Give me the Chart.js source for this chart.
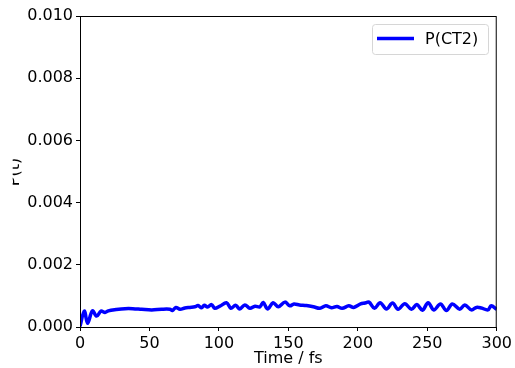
<!DOCTYPE html>
<html>
<head>
<meta charset="utf-8">
<script src="https://cdn.jsdelivr.net/npm/chart.js@4/dist/chart.umd.min.js"></script>
<style>
  html, body { margin: 0; padding: 0; background: #fff; }
  canvas { display: block; }
</style>
</head>
<body>
<canvas id="popChart" width="515" height="368"></canvas>
<script>
// data
const seriesLabel = 'P(CT2)';
const timeFs = [0, 3.1, 5.5, 8.9, 12, 15.1, 18, 20.4, 26, 32.4, 38, 44.4, 51.6, 58.8, 64.7,
  66.5, 69, 72, 75.5, 79, 82.7, 85, 87.5, 89.5, 91.8, 94.7, 97, 100.7, 105.5, 108.6,
  112, 115, 118.7, 122.3, 126, 129.5, 131.9, 135, 139, 142.7, 147.5, 151, 154, 158,
  163, 168, 172.7, 177, 181, 185, 188.7, 193.5, 197, 202, 205, 208, 212, 216, 220.6,
  225, 229, 233.8, 238.6, 242.5, 246.5, 250.6, 254.7, 259.5, 263.8, 268, 273.4, 277,
  281.8, 285.4, 289, 293.7, 296, 300];
const pCT2 = [0.00002, 0.00051, 0.00012, 0.00052, 0.00035, 0.00051, 0.00047, 0.00052, 0.00056, 0.00059, 0.00059, 0.00057, 0.00055, 0.00057, 0.00057,
  0.00053, 0.00063, 0.00057, 0.00061, 0.00063, 0.00065, 0.00069, 0.00062, 0.0007, 0.00064, 0.00072, 0.0006, 0.00067, 0.00078, 0.0006,
  0.0007, 0.00058, 0.00071, 0.0006, 0.00067, 0.00065, 0.00079, 0.00058, 0.00078, 0.00065, 0.0008, 0.00068, 0.00074, 0.00071,
  0.00069, 0.00065, 0.0006, 0.00068, 0.00062, 0.00066, 0.0006, 0.00068, 0.00063, 0.00074, 0.00077, 0.0008, 0.0006, 0.00078, 0.00058,
  0.00077, 0.00057, 0.00075, 0.00057, 0.00072, 0.00054, 0.00078, 0.00055, 0.00074, 0.00053, 0.00074, 0.00057, 0.00071,
  0.00055, 0.00063, 0.00061, 0.00055, 0.00068, 0.00057];
const xTicks = [0, 50, 100, 150, 200, 250, 300];
const yTicks = [0, 0.002, 0.004, 0.006, 0.008, 0.010];

const FONT = 'DejaVu Sans';

// box around the plot + partly clipped y label + legend, matplotlib style
const mplExtras = {
  id: 'mplExtras',
  afterDraw(chart) {
    const { ctx, chartArea: a } = chart;
    ctx.save();
    ctx.strokeStyle = '#000';
    ctx.lineWidth = 1;
    ctx.strokeRect(a.left + 0.5, a.top + 0.5, a.right - a.left - 1, a.bottom - a.top);

    // y label, cut off on the left like the reference
    ctx.save();
    ctx.beginPath();
    ctx.rect(12.7, 140, 30, 60);
    ctx.clip();
    ctx.translate(18.5, 172);
    ctx.rotate(-Math.PI / 2);
    ctx.fillStyle = '#000';
    ctx.font = '16px "' + FONT + '"';
    ctx.textAlign = 'center';
    ctx.textBaseline = 'alphabetic';
    ctx.fillText('P(t)', 0, 0);
    ctx.restore();

    // legend
    const ds = chart.data.datasets[0];
    const bx = 372.5, by = 24.5, bw = 116, bh = 30, r = 3;
    ctx.beginPath();
    ctx.moveTo(bx + r, by);
    ctx.arcTo(bx + bw, by, bx + bw, by + bh, r);
    ctx.arcTo(bx + bw, by + bh, bx, by + bh, r);
    ctx.arcTo(bx, by + bh, bx, by, r);
    ctx.arcTo(bx, by, bx + bw, by, r);
    ctx.closePath();
    ctx.fillStyle = 'rgba(255,255,255,0.8)';
    ctx.fill();
    ctx.strokeStyle = '#d6d6d6';
    ctx.lineWidth = 1;
    ctx.stroke();
    ctx.beginPath();
    ctx.moveTo(377, 38.5);
    ctx.lineTo(414, 38.5);
    ctx.strokeStyle = ds.borderColor;
    ctx.lineWidth = ds.borderWidth;
    ctx.stroke();
    ctx.fillStyle = '#000';
    ctx.font = '16px "' + FONT + '"';
    ctx.textAlign = 'left';
    ctx.textBaseline = 'middle';
    ctx.fillText(ds.label, 425, 39.5);
    ctx.restore();
  }
};

new Chart(document.getElementById('popChart'), {
  type: 'line',
  data: {
    datasets: [{
      label: seriesLabel,
      data: timeFs.map((t, i) => ({ x: t, y: pCT2[i] })),
      borderColor: '#0000ff',
      borderWidth: 3.5,
      pointRadius: 0,
      tension: 0.35,
      fill: false
    }]
  },
  options: {
    responsive: false,
    animation: false,
    devicePixelRatio: 1,
    layout: { padding: { left: 0, right: 18, top: 16, bottom: 0 } },
    plugins: { legend: { display: false }, tooltip: { enabled: false } },
    scales: {
      x: {
        type: 'linear',
        min: 0, max: 300,
        afterBuildTicks: s => { s.ticks = xTicks.map(v => ({ value: v })); },
        afterFit: s => { s.height = 41; },
        border: { display: false },
        grid: { drawOnChartArea: false, drawTicks: true, tickLength: 4, color: '#000' },
        ticks: { color: '#000', padding: 3, maxRotation: 0, font: { family: FONT, size: 16 } },
        title: { display: true, text: 'Time / fs', color: '#000', padding: 0, font: { family: FONT, size: 16 } }
      },
      y: {
        min: 0, max: 0.01,
        afterBuildTicks: s => { s.ticks = yTicks.map(v => ({ value: v })); },
        afterFit: s => { s.width = 80; },
        border: { display: false },
        grid: { drawOnChartArea: false, drawTicks: true, tickLength: 4, color: '#000' },
        ticks: { color: '#000', padding: 3, font: { family: FONT, size: 16 },
          callback: v => Number(v).toFixed(3) }
      }
    }
  },
  plugins: [mplExtras]
});
</script>
</body>
</html>
